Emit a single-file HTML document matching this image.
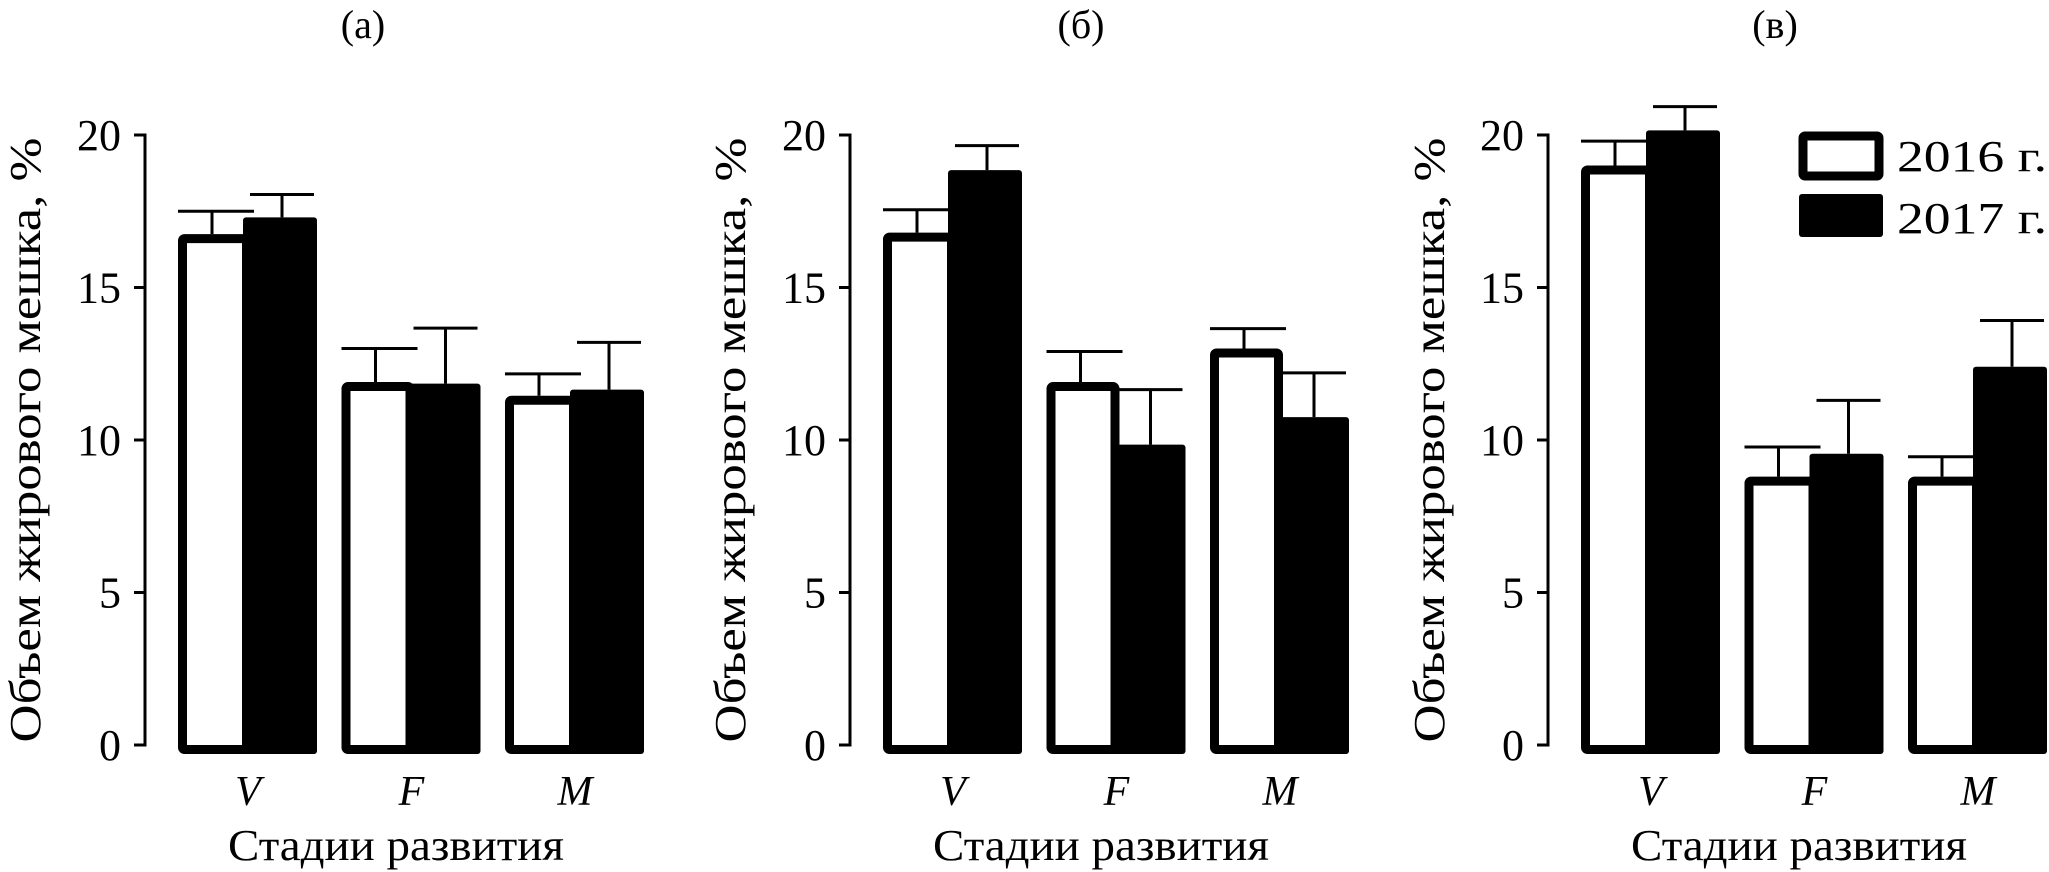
<!DOCTYPE html>
<html><head><meta charset="utf-8"><style>
html,body{margin:0;padding:0;background:#fff}
svg{display:block}
text{font-family:"Liberation Serif",serif;fill:#000}
</style></head><body>
<svg id="chart" width="2049" height="872" viewBox="0 0 2049 872" xmlns="http://www.w3.org/2000/svg"></svg>
<script>
const categories = ["V", "F", "M"];
const panelTitles = ["(а)", "(б)", "(в)"];
const ticks = [0, 5, 10, 15, 20];
const vals2016a = [16.75, 11.9, 11.45];
const err2016a = [17.5, 13.0, 12.17];
const vals2017a = [17.3, 11.85, 11.65];
const err2017a = [18.05, 13.67, 13.2];
const vals2016b = [16.8, 11.9, 13.0];
const err2016b = [17.55, 12.9, 13.65];
const vals2017b = [18.85, 9.85, 10.75];
const err2017b = [19.65, 11.65, 12.2];
const vals2016c = [19.0, 8.8, 8.8];
const err2016c = [19.8, 9.77, 9.45];
const vals2017c = [20.15, 9.55, 12.4];
const err2017c = [20.93, 11.3, 13.92];
const legendLabels = ["2016 г.", "2017 г."];

const svg = document.getElementById('chart');
const NS = 'http://www.w3.org/2000/svg';
function mk(tag, attrs, parent){const e=document.createElementNS(NS,tag);for(const k in attrs)e.setAttribute(k,attrs[k]);(parent||svg).appendChild(e);return e;}
const y = v => 745 - v*30.5;
const panels = [
 {ax:145, d:[vals2016a,err2016a,vals2017a,err2017a], tx:363, lx:26, xl:396},
 {ax:850, d:[vals2016b,err2016b,vals2017b,err2017b], tx:1081, lx:731, xl:1101},
 {ax:1548, d:[vals2016c,err2016c,vals2017c,err2017c], tx:1775, lx:1430, xl:1799}
];
panels.forEach((p,pi)=>{
  const g = mk('g',{});
  
  
  const t = mk('text',{x:p.tx,y:38,'font-size':40,'text-anchor':'middle'},g);
  t.textContent = panelTitles[pi];
  
  
  const axl = mk('line',{x1:p.ax,x2:p.ax,y1:y(20)-1.5,y2:y(0)+1.5,stroke:'#000','stroke-width':3},g);
  
  
  ticks.forEach(tv=>{
    const tl = mk('line',{x1:p.ax-11,x2:p.ax,y1:y(tv),y2:y(tv),stroke:'#000','stroke-width':3},g);
    
    
    const tt = mk('text',{x:p.ax-24,y:y(tv)+15,'font-size':44,'text-anchor':'end'},g);
    tt.textContent = tv;
    
    
  });
  const yt = mk('text',{x:0,y:0,'font-size':44,'text-anchor':'middle',textLength:605,lengthAdjust:'spacingAndGlyphs',transform:`translate(${p.lx+14},440) rotate(-90)`},g);
  yt.textContent = 'Объем жирового мешка, %';
  
  
  const xt = mk('text',{x:p.xl,y:860,'font-size':44,'text-anchor':'middle',textLength:336,lengthAdjust:'spacingAndGlyphs'},g);
  xt.textContent = 'Стадии развития';
  
  
  categories.forEach((c,i)=>{
    const gx = p.ax + 33 + i*163.5;
    const e1 = mk('path',{d:`M${gx+34} ${y(p.d[0][i])} V${y(p.d[1][i])} M${gx} ${y(p.d[1][i])} H${gx+76}`,stroke:'#000','stroke-width':3,fill:'none'},g);
    
    
    const e2 = mk('path',{d:`M${gx+104} ${y(p.d[2][i])} V${y(p.d[3][i])} M${gx+72} ${y(p.d[3][i])} H${gx+136}`,stroke:'#000','stroke-width':3,fill:'none'},g);
    
    
    const b1 = mk('rect',{x:gx+4.5,y:y(p.d[0][i])+4.5,width:64,height:y(0)-y(p.d[0][i]),fill:'#fff',stroke:'#000','stroke-width':9,rx:2},g);
    
    
    const b2 = mk('rect',{x:gx+65,y:y(p.d[2][i]),width:74,height:y(0)-y(p.d[2][i])+9,fill:'#000',rx:3},g);
    
    
    const cl = mk('text',{x:gx+70,y:805,'font-size':42,'font-style':'italic','text-anchor':'middle'},g);
    cl.textContent = c;
    
    
  });
});
const lg = mk('g',{});


const l1 = mk('rect',{x:1803,y:136,width:76,height:40,fill:'#fff',stroke:'#000','stroke-width':9,rx:2},lg);


const l2 = mk('rect',{x:1799,y:194,width:84,height:43,fill:'#000',rx:3},lg);


legendLabels.forEach((s,i)=>{
  const lt = mk('text',{x:1897,y:171+i*62,'font-size':44,textLength:150,lengthAdjust:'spacingAndGlyphs'},lg);
  lt.textContent = s;
  
  
});
</script>
</body></html>
